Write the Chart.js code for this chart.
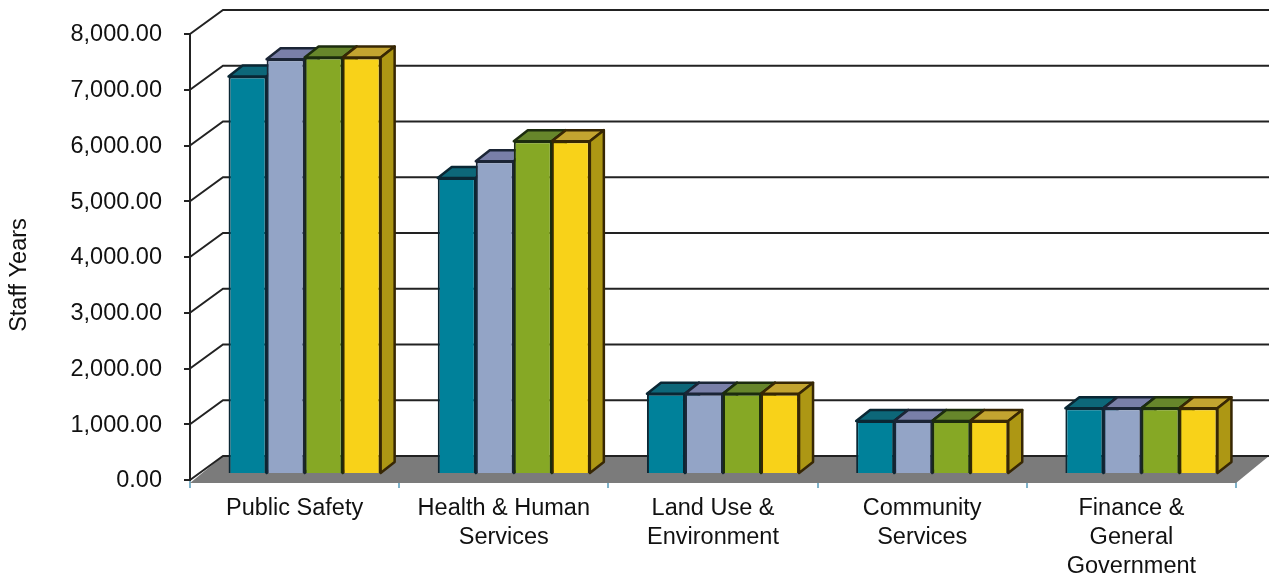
<!DOCTYPE html>
<html>
<head>
<meta charset="utf-8">
<title>Staff Years</title>
<script src="https://cdn.jsdelivr.net/npm/chart.js@4/dist/chart.umd.min.js"></script>
<style>
  html, body { margin: 0; padding: 0; background: #fff; }
  canvas { display: block; }
</style>
</head>
<body>
<canvas id="chart" width="1275" height="575"></canvas>
<script>
const categories = [
  "Public Safety",
  ["Health & Human", "Services"],
  ["Land Use &", "Environment"],
  ["Community", "Services"],
  ["Finance &", "General", "Government"],
];
const seriesA = [7130, 5310, 1440, 950, 1180];
const seriesB = [7440, 5610, 1440, 950, 1180];
const seriesC = [7470, 5970, 1440, 950, 1180];
const seriesD = [7470, 5970, 1440, 950, 1180];
const yMax = 8000;
const yStep = 1000;

const fronts = ["#00819a", "#93a4c6", "#86a825", "#f8d219"];
const tops = ["#0d6779", "#797fa8", "#67862b", "#c3a430"];
const sides = ["#0a6072", "#6f7a9c", "#5f7a1d", "#ad9714"];
const edges = ["#0a2734", "#1b2536", "#1c2c0e", "#372704"];

// wall and floor sit this far behind the axis plane
const wallDx = 33, wallDy = 24;
// bars stand a little inside the floor
const barDx = 10, barDy = 6;
// depth of each bar
const depthX = 14, depthY = 11;

const box3d = {
  id: "box3d",
  beforeDatasetsDraw(chart) {
    const { ctx, chartArea: a, scales: { y } } = chart;
    const right = a.right + wallDx;
    const floorY = y.getPixelForValue(0);

    ctx.save();
    // floor
    ctx.fillStyle = "#7b7b7b";
    ctx.beginPath();
    ctx.moveTo(a.left, floorY + 3);
    ctx.lineTo(a.left + wallDx, floorY - wallDy);
    ctx.lineTo(right, floorY - wallDy);
    ctx.lineTo(a.right, floorY + 3);
    ctx.closePath();
    ctx.fill();

    // grid lines along the back and left walls
    ctx.strokeStyle = "#222";
    ctx.lineWidth = 2;
    y.ticks.forEach((t) => {
      const py = y.getPixelForValue(t.value);
      ctx.beginPath();
      ctx.moveTo(a.left, py);
      ctx.lineTo(a.left + wallDx, py - wallDy);
      ctx.lineTo(right, py - wallDy);
      ctx.stroke();
    });
    ctx.restore();

    // everything in the datasets is drawn shifted onto the bar plane
    ctx.save();
    ctx.translate(barDx, -barDy);

    // tops and sides go first, left to right; the fronts then cover what is hidden
    ctx.lineWidth = 2.5;
    ctx.lineJoin = "round";
    series.forEach((_, i) => {
      ctx.strokeStyle = edges[i];
      chart.getDatasetMeta(i).data.forEach((bar) => {
        const { x, y: top, base, width } = bar.getProps(["x", "y", "base", "width"], true);
        const l = x - width / 2, r = x + width / 2;
        ctx.fillStyle = tops[i];
        ctx.beginPath();
        ctx.moveTo(l, top);
        ctx.lineTo(l + depthX, top - depthY);
        ctx.lineTo(r + depthX, top - depthY);
        ctx.lineTo(r, top);
        ctx.closePath();
        ctx.fill();
        ctx.stroke();
        ctx.fillStyle = sides[i];
        ctx.beginPath();
        ctx.moveTo(r, top);
        ctx.lineTo(r + depthX, top - depthY);
        ctx.lineTo(r + depthX, base - depthY);
        ctx.lineTo(r, base);
        ctx.closePath();
        ctx.fill();
        ctx.stroke();
      });
    });
  },
  afterDatasetsDraw(chart) {
    chart.ctx.restore();
  },
  // axis title sits lower than the middle of the scale
  afterDraw(chart) {
    const { ctx } = chart;
    ctx.save();
    ctx.translate(20, 275);
    ctx.rotate(-Math.PI / 2);
    ctx.fillStyle = "#111";
    ctx.font = "23.5px 'Liberation Sans'";
    ctx.textAlign = "center";
    ctx.textBaseline = "middle";
    ctx.fillText("Staff Years", 0, 0);
    ctx.restore();
  },
};

const series = [seriesA, seriesB, seriesC, seriesD];

new Chart(document.getElementById("chart"), {
  type: "bar",
  plugins: [box3d],
  data: {
    labels: categories,
    datasets: series.map((data, i) => ({
      data,
      backgroundColor: fronts[i],
      borderColor: edges[i],
      borderWidth: 2,
      categoryPercentage: 0.727,
      barPercentage: 1,
      clip: false,
    })),
  },
  options: {
    responsive: false,
    animation: false,
    layout: { padding: { top: 34, right: 39, left: 0, bottom: 0 } },
    plugins: { legend: { display: false }, tooltip: { enabled: false } },
    scales: {
      x: {
        afterFit: (s) => { s.height = 95; },
        border: { display: false },
        grid: { drawOnChartArea: false, color: "#7fb2c9", tickLength: 8, lineWidth: 2 },
        ticks: {
          color: "#111",
          font: { family: "Liberation Sans", size: 23.5, lineHeight: 1.23 },
          maxRotation: 0,
          autoSkip: false,
          padding: 6,
        },
      },
      y: {
        min: 0,
        max: yMax,
        // tick padding would otherwise push the plot area down
        afterFit: (s) => { s.width = 190; s.paddingTop = 0; s.paddingBottom = 0; },
        border: { display: true, color: "#222", width: 2 },
        grid: { drawOnChartArea: false, color: "#222", tickLength: 6, lineWidth: 2 },
        ticks: {
          stepSize: yStep,
          color: "#111",
          font: { family: "Liberation Sans", size: 23.5 },
          padding: 22,
          labelOffset: 1,
          callback: (v) => v.toLocaleString("en-US", { minimumFractionDigits: 2, maximumFractionDigits: 2 }),
        },
      },
    },
  },
});
</script>
</body>
</html>
